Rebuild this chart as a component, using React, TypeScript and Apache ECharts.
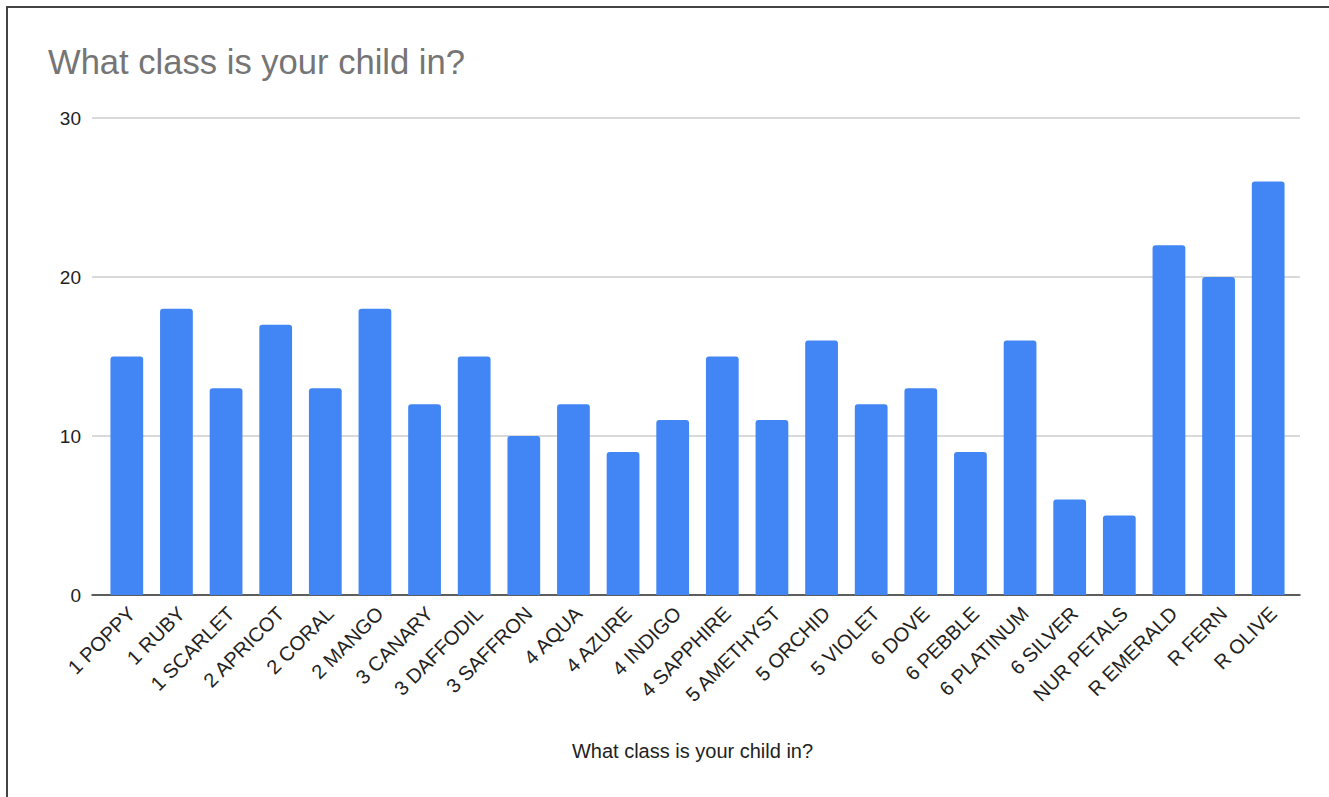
import React, { useEffect, useRef } from "react";
import * as echarts from "echarts";

const categories = [
  "1 POPPY", "1 RUBY", "1 SCARLET", "2 APRICOT", "2 CORAL", "2 MANGO",
  "3 CANARY", "3 DAFFODIL", "3 SAFFRON", "4 AQUA", "4 AZURE", "4 INDIGO",
  "4 SAPPHIRE", "5 AMETHYST", "5 ORCHID", "5 VIOLET", "6 DOVE", "6 PEBBLE",
  "6 PLATINUM", "6 SILVER", "NUR PETALS", "R EMERALD", "R FERN", "R OLIVE",
];
const counts = [15, 18, 13, 17, 13, 18, 12, 15, 10, 12, 9, 11, 15, 11, 16, 12, 13, 9, 16, 6, 5, 22, 20, 26];
const yTicks = { min: 0, max: 30, interval: 10 };
const titleText = "What class is your child in?";
const axisName = "What class is your child in?";

const FONT = "'Liberation Sans', Arial, sans-serif";

export default function App() {
  const ref = useRef<HTMLDivElement>(null);
  useEffect(() => {
    if (!ref.current) return;
    const chart = echarts.init(ref.current, null, { renderer: "svg" });
    chart.setOption({
      animation: false,
      backgroundColor: "#ffffff",
      textStyle: { fontFamily: FONT },
      title: {
        text: titleText,
        left: 48,
        top: 44,
        padding: 0,
        textStyle: { fontFamily: FONT, fontSize: 34.6, fontWeight: "normal", color: "#757575" },
      },
      graphic: [
        { type: "line", shape: { x1: 6, y1: 7, x2: 1329, y2: 7 }, style: { stroke: "#444", lineWidth: 2 } },
        { type: "line", shape: { x1: 7, y1: 6, x2: 7, y2: 797 }, style: { stroke: "#444", lineWidth: 2 } },
      ],
      grid: [
        { left: 92, right: 29, top: 118, bottom: 202 },
        { left: 102, right: 36, top: 118, bottom: 202 },
      ],
      xAxis: [
        {
          type: "value",
          gridIndex: 0,
          min: 0,
          max: 1,
          axisLine: { show: true, lineStyle: { color: "#333", width: 1.5 } },
          axisTick: { show: false },
          axisLabel: { show: false },
          splitLine: { show: false },
        },
        {
          type: "category",
          gridIndex: 1,
          data: categories,
          axisLine: { show: false },
          axisTick: { show: false },
          axisLabel: {
            rotate: 45,
            interval: 0,
            margin: 20,
            padding: [0, -7, 0, 0],
            fontSize: 20,
            color: "#222",
            fontFamily: FONT,
          },
          name: axisName,
          nameLocation: "middle",
          nameGap: 146,
          nameTextStyle: { fontSize: 20, color: "#222", fontFamily: FONT, padding: [0, 10, 0, 0] },
        },
      ],
      yAxis: [
        {
          type: "value",
          gridIndex: 0,
          ...yTicks,
          axisLine: { show: false },
          axisTick: { show: false },
          axisLabel: { margin: 11, fontSize: 19, color: "#222", fontFamily: FONT },
          splitLine: { lineStyle: { color: "#cccccc", width: 1.5 } },
        },
        {
          type: "value",
          gridIndex: 1,
          ...yTicks,
          show: false,
          splitLine: { show: false },
        },
      ],
      series: [
        {
          type: "bar",
          xAxisIndex: 1,
          yAxisIndex: 1,
          data: counts,
          barCategoryGap: "34%",
          itemStyle: { color: "#4285F4", borderRadius: [3, 3, 0, 0] },
        },
      ],
    });
    return () => chart.dispose();
  }, []);
  return (
    <div style={{ position: "absolute", left: 0, top: 0, width: 1329, height: 797 }}>
      <div ref={ref} style={{ width: 1329, height: 797 }} />
    </div>
  );
}
